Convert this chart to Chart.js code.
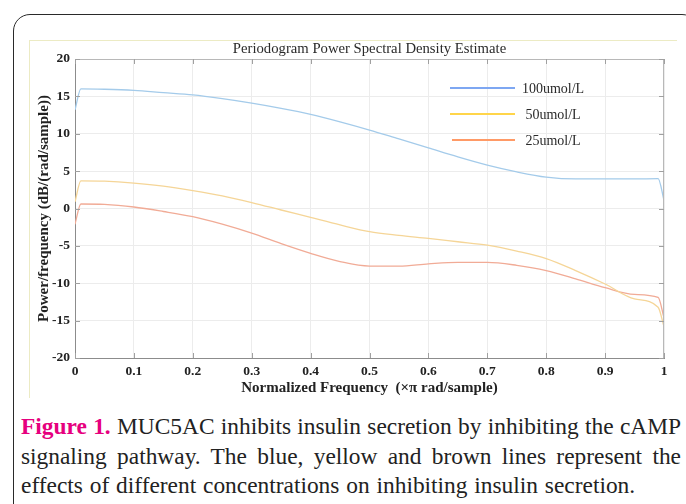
<!DOCTYPE html>
<html>
<head>
<meta charset="utf-8">
<script src="https://cdn.jsdelivr.net/npm/chart.js@4/dist/chart.umd.min.js"></script>
<style>
  html, body { margin: 0; padding: 0; background: #fff; }
  body { width: 686px; height: 504px; position: relative; overflow: hidden; }
  #card { position: absolute; left: 13px; top: 14px; width: 686px; height: 560px;
          border: 1.3px solid #2a2a2a; border-radius: 17px; box-sizing: border-box; }
  #frame { position: absolute; left: 29px; top: 40px; width: 648px; height: 358px;
           border-top: 1.5px solid #ecebc4; border-left: 1.5px solid #ecebc4; box-sizing: border-box; }
  #wrap { position: absolute; left: 0; top: 0; width: 686px; height: 400px; }
  #caption { position: absolute; left: 21px; top: 412px; width: 660px;
             font-family: "Liberation Serif", "Times New Roman", serif; font-size: 23.4px;
             line-height: 29.5px; color: #222; }
  #caption .ln { text-align: justify; text-align-last: justify; white-space: nowrap; }
  #caption .last { text-align: left; text-align-last: left; white-space: nowrap; word-spacing: 1px; }
  #caption b { color: #e6007e; }
</style>
</head>
<body>
<div id="card"></div>
<div id="frame"></div>
<div id="wrap"><canvas id="c" width="686" height="400"></canvas></div>
<div id="caption">
  <div class="ln"><b>Figure 1.</b> MUC5AC inhibits insulin secretion by inhibiting the cAMP</div>
  <div class="ln">signaling pathway. The blue, yellow and brown lines represent the</div>
  <div class="last">effects of different concentrations on inhibiting insulin secretion.</div>
</div>
<script>
const chartTitle = "Periodogram Power Spectral Density Estimate";
const xAxisTitle = "Normalized Frequency  (\u00d7\u03c0 rad/sample)";
const yAxisTitle = "Power/frequency (dB/(rad/sample))";

const seriesNames = ["100umol/L", "50umol/L", "25umol/L"];
const lineColors = ["#a4cbea", "#f5d597", "#f1ab96"];
const legendColors = ["#7ea7f2", "#ffd54a", "#ff9a66"];

const freqs = [0, 0.01, 0.05, 0.1, 0.15, 0.2, 0.25, 0.3, 0.35, 0.4, 0.45, 0.5, 0.55, 0.6, 0.65, 0.7, 0.75, 0.8, 0.85, 0.9, 0.95, 0.99, 1];
const psd100 = [13.2, 16.0, 15.95, 15.8, 15.5, 15.2, 14.7, 14.1, 13.4, 12.6, 11.6, 10.5, 9.3, 8.1, 6.9, 5.8, 4.9, 4.2, 3.95, 3.95, 3.95, 4.0, 1.1];
const psd50 = [0.9, 3.7, 3.65, 3.4, 3.0, 2.4, 1.7, 0.8, -0.2, -1.2, -2.2, -3.1, -3.6, -4.0, -4.45, -4.9, -5.7, -6.7, -8.3, -10.1, -12.1, -13.2, -15.8];
const psd25 = [-2.1, 0.6, 0.55, 0.2, -0.4, -1.1, -2.1, -3.3, -4.7, -6.0, -7.1, -7.7, -7.7, -7.4, -7.2, -7.2, -7.6, -8.3, -9.4, -10.6, -11.5, -11.9, -14.6];

const xTicks = [0, 0.1, 0.2, 0.3, 0.4, 0.5, 0.6, 0.7, 0.8, 0.9, 1];
const xTickLabels = ["0", "0.1", "0.2", "0.3", "0.4", "0.5", "0.6", "0.7", "0.8", "0.9", "1"];
const yTicks = [-20, -15, -10, -5, 0, 5, 10, 15, 20];
const yTickLabels = ["-20", "-15", "-10", "-5", "0", "5", "10", "15", "20"];

const serif = "'Liberation Serif', 'Times New Roman', serif";
const allSeries = [psd100, psd50, psd25];

const datasets = allSeries.map((s, i) => ({
  label: seriesNames[i],
  data: freqs.map((f, j) => ({ x: f, y: s[j] })),
  borderColor: lineColors[i],
  backgroundColor: lineColors[i],
  borderWidth: 1.3,
  pointRadius: 0,
  cubicInterpolationMode: 'monotone',
  fill: false
}));

const boxPlugin = {
  id: 'box',
  afterDatasetsDraw(chart) {
    const ctx = chart.ctx, a = chart.chartArea;
    const xs = chart.scales.x, ys = chart.scales.y;
    ctx.save();
    ctx.strokeStyle = '#b8b8b8';
    ctx.lineWidth = 1;
    ctx.beginPath();
    ctx.moveTo(a.left, a.top + 0.5); ctx.lineTo(a.right, a.top + 0.5);
    ctx.moveTo(a.right - 0.5, a.top); ctx.lineTo(a.right - 0.5, a.bottom);
    ctx.stroke();
    ctx.strokeStyle = '#a0a0a0';
    ctx.beginPath();
    const L = 5;
    xTicks.forEach(v => {
      const p = Math.round(xs.getPixelForValue(v)) + 0.5;
      ctx.moveTo(p, a.top); ctx.lineTo(p, a.top + L);
      ctx.moveTo(p, a.bottom); ctx.lineTo(p, a.bottom - L);
    });
    yTicks.forEach(v => {
      const p = Math.round(ys.getPixelForValue(v)) + 0.5;
      ctx.moveTo(a.right, p); ctx.lineTo(a.right - L, p);
      ctx.moveTo(a.left, p); ctx.lineTo(a.left + L, p);
    });
    ctx.stroke();
    // title, centred over the plot box
    ctx.fillStyle = '#2a2a2a';
    ctx.font = "14.7px " + serif;
    ctx.textAlign = 'center';
    ctx.textBaseline = 'middle';
    ctx.fillText(chartTitle, (a.left + a.right) / 2, a.top - 10);
    // legend
    const lx0 = a.left + 375, lx1 = a.left + 440, tx = a.left + 478;
    const ly = [a.top + 29, a.top + 55, a.top + 81];
    ctx.font = "14px " + serif;
    seriesNames.forEach((n, i) => {
      ctx.strokeStyle = legendColors[i];
      ctx.lineWidth = 2.2;
      ctx.beginPath();
      ctx.moveTo(lx0 + (i === 2 ? 2 : 0), ly[i]); ctx.lineTo(lx1, ly[i]);
      ctx.stroke();
      ctx.fillStyle = '#2a2a2a';
      ctx.fillText(n, tx, ly[i] + 1);
    });
    ctx.restore();
  }
};

new Chart(document.getElementById('c'), {
  type: 'line',
  data: { datasets },
  options: {
    responsive: false,
    animation: false,
    layout: { padding: { left: 30, top: 59, right: 22, bottom: 2 } },
    plugins: {
      legend: { display: false },
      tooltip: { enabled: false },
      title: { display: false }
    },
    scales: {
      x: {
        type: 'linear', min: 0, max: 1,
        afterBuildTicks: s => { s.ticks = xTicks.map(v => ({ value: v })); },
        afterFit: s => { s.height = 40; },
        ticks: {
          callback: (v) => xTickLabels[xTicks.indexOf(v)],
          color: '#222', font: { family: serif, size: 13.5, weight: 'bold' },
          padding: 5, maxRotation: 0, autoSkip: false
        },
        grid: { color: '#ececec', drawTicks: false },
        border: { display: true, color: '#8c8c8c' },
        title: {
          display: true, text: xAxisTitle, color: '#222',
          font: { family: serif, size: 15, weight: 'bold' },
          padding: { top: 0, bottom: 1 }
        }
      },
      y: {
        min: -20, max: 20,
        afterBuildTicks: s => { s.ticks = yTicks.map(v => ({ value: v })); },
        afterFit: s => { s.width = 45; },
        ticks: {
          callback: (v) => yTickLabels[yTicks.indexOf(v)],
          color: '#222', font: { family: serif, size: 13.5, weight: 'bold' },
          padding: 5, autoSkip: false
        },
        grid: { color: '#ececec', drawTicks: false },
        border: { display: true, color: '#8c8c8c' },
        title: {
          display: true, text: yAxisTitle, color: '#222',
          font: { family: serif, size: 15, weight: 'bold' },
          padding: { top: 5, bottom: 0 }
        }
      }
    }
  },
  plugins: [boxPlugin]
});
</script>
</body>
</html>
